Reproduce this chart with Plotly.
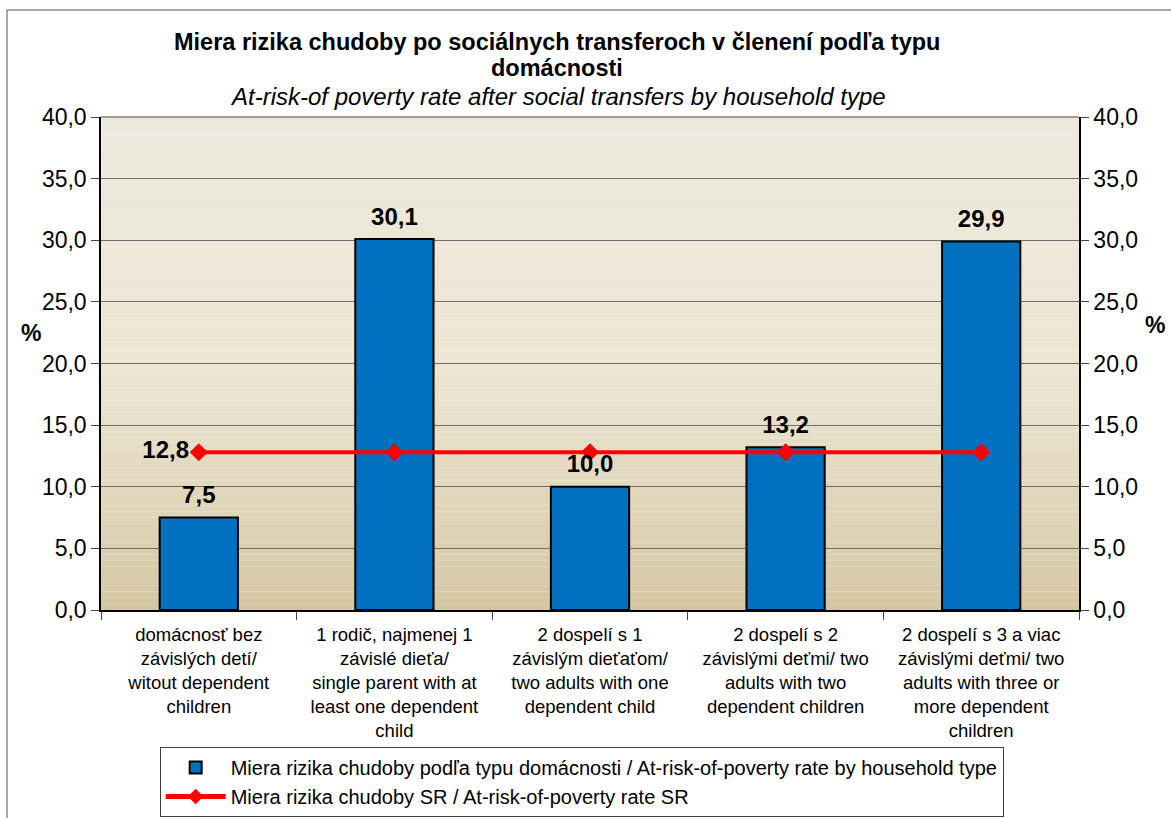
import plotly.graph_objects as go
import numpy as np

categories = [
    "domácnosť bez<br>závislých detí/<br>witout dependent<br>children",
    "1 rodič, najmenej 1<br>závislé dieťa/<br>single parent with at<br>least one dependent<br>child",
    "2 dospelí s 1<br>závislým dieťaťom/<br>two adults with one<br>dependent child",
    "2 dospelí s 2<br>závislými deťmi/ two<br>adults with two<br>dependent children",
    "2 dospelí s 3 a viac<br>závislými deťmi/ two<br>adults with three or<br>more dependent<br>children",
]
household_rate = [7.5, 30.1, 10.0, 13.2, 29.9]
sr_rate = [12.8, 12.8, 12.8, 12.8, 12.8]
y_ticks = [0, 5, 10, 15, 20, 25, 30, 35, 40]

bar_name = "Miera rizika chudoby podľa typu domácnosti / At-risk-of-poverty rate by household type"
line_name = "Miera rizika chudoby SR / At-risk-of-poverty rate SR"

FONT = "Liberation Sans, Arial, sans-serif"

def fmt(v):
    return f"{v:.1f}".replace(".", ",")

fig = go.Figure()
fig.add_trace(go.Bar(
    x=categories, y=household_rate, name=bar_name,
    marker=dict(color="#0070C0", line=dict(color="black", width=2)),
))
fig.add_trace(go.Scatter(
    x=categories, y=sr_rate, name=line_name, mode="lines+markers+text",
    line=dict(color="#FF0000", width=4),
    marker=dict(symbol="diamond", size=14, color="#FF0000"),
    text=[fmt(sr_rate[0])] + [""] * (len(sr_rate) - 1),
    textposition="middle left",
    textfont=dict(family=FONT, size=24, color="black", weight="bold"),
))
# bar value labels (offset above the bars)
fig.add_trace(go.Scatter(
    x=categories, y=household_rate, mode="markers+text", showlegend=False,
    marker=dict(size=12, opacity=0), hoverinfo="skip",
    text=[fmt(v) for v in household_rate], textposition="top center",
    textfont=dict(family=FONT, size=24, color="black", weight="bold"),
    cliponaxis=False,
))
fig.add_trace(go.Scatter(x=categories, y=household_rate, yaxis="y2", mode="markers",
                         marker=dict(opacity=0), showlegend=False, hoverinfo="skip"))

n = 80
top = np.array([237, 234, 221])
mid = np.array([236, 230, 211])
bot = np.array([212, 197, 160])
shapes = []
for i in range(n):
    t = (i + 0.5) / n
    if t >= 0.5:
        c = mid + (top - mid) * (t - 0.5) / 0.5
    else:
        c = bot + (mid - bot) * (t / 0.5) ** 0.8
    shapes.append(dict(type="rect", xref="x domain", yref="y domain",
                       x0=0, x1=1, y0=i / n, y1=(i + 1) / n,
                       fillcolor=f"rgb({int(c[0])},{int(c[1])},{int(c[2])})",
                       line=dict(width=0), layer="below"))
shapes.append(dict(type="rect", xref="paper", yref="paper",
                   x0=-0.0961, x1=1.2, y0=-0.5, y1=1.217,
                   line=dict(color="#8C8C8C", width=1.5), fillcolor="rgba(0,0,0,0)"))

fig.update_layout(
    width=1171, height=818,
    margin=dict(l=101, r=92, t=117, b=208),
    paper_bgcolor="white", plot_bgcolor="rgba(0,0,0,0)",
    separators=", ",
    font=dict(family=FONT, color="black"),
    bargap=0.6,
    shapes=shapes,
    showlegend=True,
    legend=dict(x=0.06, xref="paper", y=(818 - 747) / 818, yref="container",
                xanchor="left", yanchor="top",
                bordercolor="#404040", borderwidth=1, bgcolor="white",
                font=dict(family=FONT, size=20), tracegroupgap=0,
                itemsizing="constant", itemwidth=60),
    xaxis=dict(tickfont=dict(family=FONT, size=18.5), tickson="boundaries",
               ticks="outside", ticklen=8, tickcolor="#404040",
               showline=True, linecolor="black", linewidth=1.5, tickangle=0,
               automargin=False, ticklabelstandoff=7),
    yaxis=dict(range=[0, 40], tickvals=y_ticks, tickformat=".1f",
               tickfont=dict(family=FONT, size=23), ticks="outside", ticklen=8,
               tickcolor="#404040", showgrid=True, gridcolor="#6E6E6E", gridwidth=1.2,
               showline=True, linecolor="black", linewidth=1.5, zeroline=False,
               automargin=False),
    yaxis2=dict(range=[0, 40], tickvals=y_ticks, tickformat=".1f", overlaying="y",
                side="right", tickfont=dict(family=FONT, size=23), ticks="outside",
                ticklen=8, tickcolor="#404040", showgrid=False,
                showline=True, linecolor="black", linewidth=1.5, zeroline=False,
                automargin=False),
    annotations=[
        dict(text="<b>Miera rizika chudoby po sociálnych transferoch v členení podľa typu</b>",
             xref="paper", yref="paper", x=(557 - 101) / 978, y=(610 - 42) / 493,
             xanchor="center", yanchor="middle",
             showarrow=False, font=dict(family=FONT, size=23.5)),
        dict(text="<b>domácnosti</b>",
             xref="paper", yref="paper", x=(557 - 101) / 978, y=(610 - 68) / 493,
             xanchor="center", yanchor="middle",
             showarrow=False, font=dict(family=FONT, size=23.5)),
        dict(text="<i>At-risk-of poverty rate after social transfers by household type</i>",
             xref="paper", yref="paper", x=(558 - 101) / 978, y=(610 - 97) / 493,
             xanchor="center", yanchor="middle",
             showarrow=False, font=dict(family=FONT, size=24)),
        dict(text="<b>%</b>", xref="paper", yref="paper", x=(31 - 101) / 978, y=(610 - 333) / 493,
             xanchor="center", yanchor="middle",
             showarrow=False, font=dict(family=FONT, size=23)),
        dict(text="<b>%</b>", xref="paper", yref="paper", x=(1155 - 101) / 978, y=(610 - 325) / 493,
             xanchor="center", yanchor="middle",
             showarrow=False, font=dict(family=FONT, size=23)),
    ],
)
fig.add_shape(type="line", xref="x domain", yref="y domain", x0=0, x1=1, y0=1, y1=1,
              line=dict(color="#808080", width=1.5))

fig.write_html("out.html", config={"displayModeBar": False},
               post_script="document.body.style.margin='0';document.body.style.overflow='hidden';")
